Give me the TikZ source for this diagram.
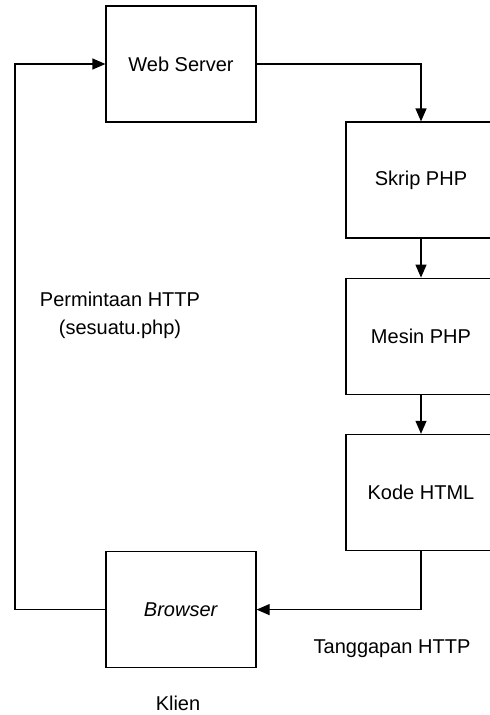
\documentclass[tikz,border=0pt]{standalone}
\usepackage{fontspec}
\setmainfont{Liberation Sans}
\usetikzlibrary{arrows.meta,positioning}

\begin{document}
\begin{tikzpicture}[x=1pt, y=1pt, node distance=39pt, line width=1.2pt, every node/.style={font=\fontsize{20}{28}\selectfont}, box/.style={draw, line width=1.2pt, minimum width=150pt, minimum height=116pt, inner sep=0pt}, >={Triangle[length=13pt,width=11pt]}]
\useasboundingbox (0,0) rectangle (490,-715);
\node[box] (server) at (181,-64) {Web Server};
\node[box] (skrip) at (421,-180) {Skrip PHP};
\node[box, below=of skrip] (mesin) {Mesin PHP};
\node[box, below=of mesin] (kode) {Kode HTML};
\node[box, anchor=north] (browser) at (server |- kode.south) {\textit{Browser}};
\coordinate (kiri) at (15,0);
\node[align=center] (minta) at (120,-315) {Permintaan HTTP\\(sesuatu.php)};
\node[anchor=base] (tanggap) at (392,-653) {Tanggapan HTTP};
\node[anchor=base] (klien) at (178,-710) {Klien};
\draw[->] (server.east) -| (skrip.north);
\draw[->] (skrip) -- (mesin);
\draw[->] (mesin) -- (kode);
\draw[->] (kode.south) |- (browser.east);
\draw[->] (browser.west) -- (browser.west -| kiri) |- (server.west);
\end{tikzpicture}
\end{document}
